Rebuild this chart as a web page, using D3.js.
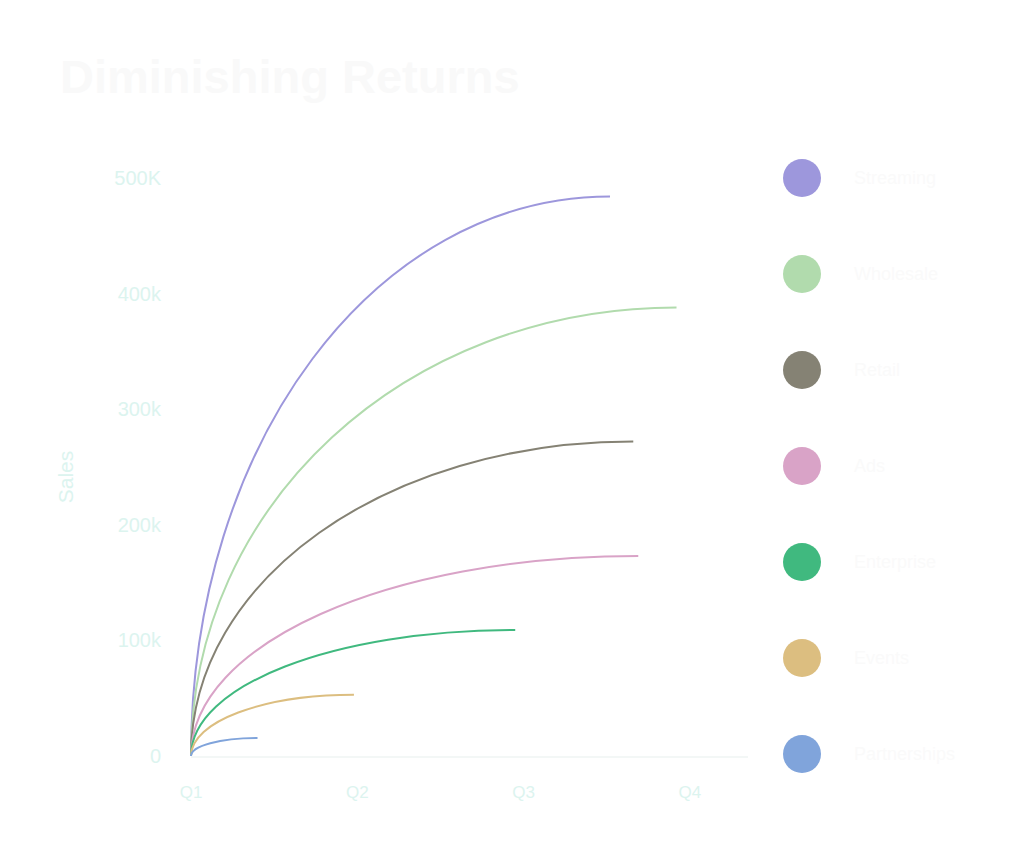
<!DOCTYPE html>
<html>
<head>
<meta charset="utf-8">
<script src="https://cdn.jsdelivr.net/npm/d3@7"></script>
<style>
  body { margin: 0; background: #fff; }
  text { font-family: "Liberation Sans", Arial, sans-serif; }
</style>
</head>
<body>
<div id="chart"></div>
<script>
// channels, top to bottom
var channels = ["Streaming", "Wholesale", "Retail", "Ads", "Enterprise", "Events", "Partnerships"];
var colors = ["#9d97dc", "#b1dbad", "#858274", "#d9a3c7", "#40b97f", "#dcbe80", "#80a4db"];
// where each curve levels off: quarter reached, sales ceiling
var plateauQuarter = [2.52, 2.92, 2.66, 2.69, 1.95, 0.98, 0.40];
var plateauSales = [484000, 388000, 272000, 173000, 109000, 53000, 15500];

var quarters = ["Q1", "Q2", "Q3", "Q4"];
var salesTicks = [0, 100000, 200000, 300000, 400000, 500000];
var salesTickLabels = ["0", "100k", "200k", "300k", "400k", "500K"];

var width = 1024, height = 858;

var svg = d3.select("#chart").append("svg")
    .attr("width", width)
    .attr("height", height);

var x = d3.scaleLinear().domain([0, 3.35]).range([191, 748]);
var y = d3.scaleLinear().domain([0, 500000]).range([756, 178]);

// title
svg.append("text")
    .attr("x", 60)
    .attr("y", 93)
    .style("font-size", "47px")
    .style("font-weight", "bold")
    .style("fill", "#f9f9f9")
    .text("Diminishing Returns");

// baseline
svg.append("line")
    .attr("x1", x(0)).attr("x2", x(3.35))
    .attr("y1", y(0) + 1).attr("y2", y(0) + 1)
    .style("stroke", "#f3f7f6")
    .style("stroke-width", 2);

// y tick labels
svg.selectAll(".ytick")
    .data(salesTicks)
    .enter().append("text")
    .attr("class", "ytick")
    .attr("x", 161)
    .attr("y", function(d) { return y(d); })
    .attr("dy", ".35em")
    .style("text-anchor", "end")
    .style("font-size", "20px")
    .style("fill", "#dcf4ef")
    .text(function(d, i) { return salesTickLabels[i]; });

// x tick labels
svg.selectAll(".xtick")
    .data(quarters)
    .enter().append("text")
    .attr("class", "xtick")
    .attr("x", function(d, i) { return x(i); })
    .attr("y", 792)
    .attr("dy", ".35em")
    .style("text-anchor", "middle")
    .style("font-size", "17px")
    .style("fill", "#dcf4ef")
    .text(function(d) { return d; });

// y axis title
svg.append("text")
    .attr("transform", "translate(73,477) rotate(-90)")
    .style("text-anchor", "middle")
    .style("font-size", "21px")
    .style("fill", "#dcf4ef")
    .text("Sales");

// curves: rise from the origin, flatten at the plateau
function curvePath(i) {
    var x0 = x(0), y0 = y(0);
    var x1 = x(plateauQuarter[i]), y1 = y(plateauSales[i]);
    var p = d3.path();
    p.moveTo(x0, y0);
    p.bezierCurveTo(x0, y0 - 0.56 * (y0 - y1), x1 - 0.56 * (x1 - x0), y1, x1, y1);
    return p.toString();
}

svg.selectAll(".curve")
    .data(channels)
    .enter().append("path")
    .attr("class", "curve")
    .attr("d", function(d, i) { return curvePath(i); })
    .style("fill", "none")
    .style("stroke", function(d, i) { return colors[i]; })
    .style("stroke-width", 2);

// legend
var legend = svg.selectAll(".legend")
    .data(channels)
    .enter().append("g")
    .attr("class", "legend")
    .attr("transform", function(d, i) { return "translate(802," + (178 + i * 96) + ")"; });

legend.append("circle")
    .attr("r", 19)
    .style("fill", function(d, i) { return colors[i]; });

legend.append("text")
    .attr("x", 52)
    .attr("dy", ".35em")
    .style("font-size", "18px")
    .style("fill", "#fafafa")
    .text(function(d) { return d; });
</script>
</body>
</html>
